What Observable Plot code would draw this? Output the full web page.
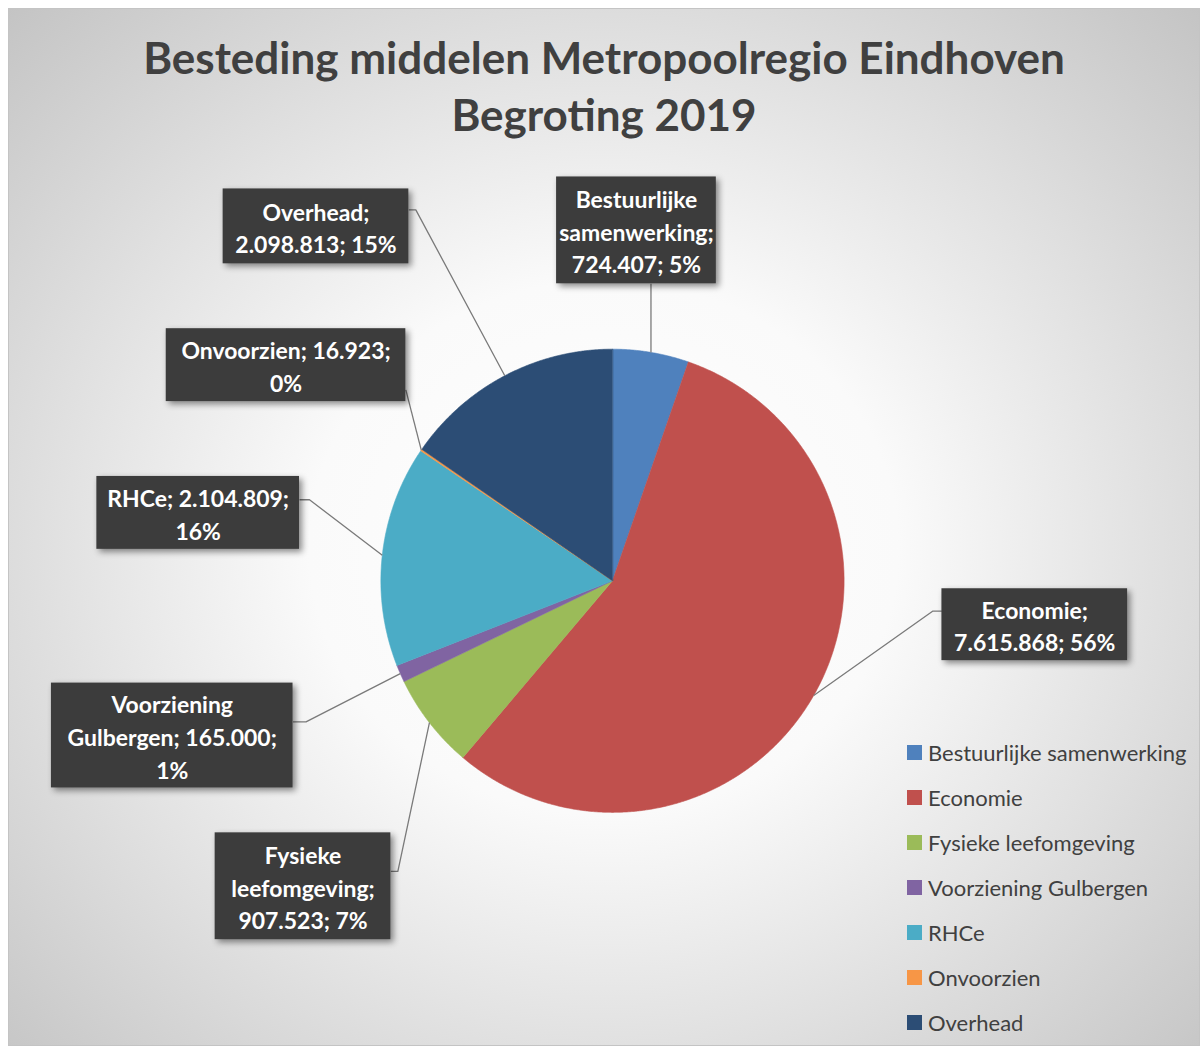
<!DOCTYPE html>
<html>
<head>
<meta charset="utf-8">
<script src="https://cdn.jsdelivr.net/npm/d3@7"></script>
<script src="https://cdn.jsdelivr.net/npm/@observablehq/plot@0.6"></script>
<style>
  html, body { margin: 0; padding: 0; background: #ffffff; }
  #frame {
    position: absolute; left: 8px; top: 8px; width: 1192px; height: 1038px;
    box-sizing: border-box; border: 1px solid #c4c4c4; overflow: hidden;
    background: radial-gradient(ellipse farthest-corner at 50% 52%, #ffffff 0%, #fafafa 35%, #c4c4c4 100%);
    font-family: Lato, "Open Sans", sans-serif;
  }
  #title {
    height: 142px; box-sizing: border-box; padding-top: 20px;
    text-align: center; font-weight: bold; font-size: 44px; line-height: 57px; color: #404040;
  }
  #legend { position: absolute; left: 898px; top: 721px; }
  .item { display: flex; align-items: center; height: 45px; font-size: 22px; color: #404040; }
  .sw { width: 15px; height: 15px; margin-right: 6px; }
  g[aria-label="rect"] rect { filter: drop-shadow(3px 3px 3px rgba(0,0,0,0.45)); }
</style>
</head>
<body>
<div id="frame">
  <div id="title"></div>
  <div id="chart"></div>
  <div id="legend"></div>
</div>
<script>
// ---- data ----
const titleLines = ["Besteding middelen Metropoolregio Eindhoven", "Begroting 2019"];
const categories = ["Bestuurlijke samenwerking", "Economie", "Fysieke leefomgeving", "Voorziening Gulbergen", "RHCe", "Onvoorzien", "Overhead"];
const amounts = [724407, 7615868, 907523, 165000, 2104809, 16923, 2098813];
const colors = ["#4F81BD", "#C0504D", "#9BBB59", "#8064A2", "#4BACC6", "#F79646", "#2C4D75"];

// ---- layout (pixels relative to the pie centre; y down) ----
const W = 1192, H = 896, CX = 604, CY = 430, R = 232;
const labelLayout = [
  {dx: 24,    dy: -351, w: 160, h: 107, side: "bottom", wrap: [1, 1, 2]},
  {dx: 423,   dy: 44,   w: 186, h: 72,  side: "left",  at: 0.31, elbow: 9, wrap: [1, 2]},
  {dx: -310,  dy: 306,  w: 176, h: 107, side: "right", at: 0.36, elbow: 7, wrap: [1, 1, 2]},
  {dx: -441,  dy: 155,  w: 242, h: 105, side: "right", at: 0.37, elbow: 13, wrap: [1, 2, 1]},
  {dx: -415,  dy: -68,  w: 203, h: 73,  side: "right", at: 0.32, elbow: 10, wrap: [2, 1]},
  {dx: -327,  dy: -216, w: 240, h: 73,  side: "right", at: 0.84, elbow: 0, wrap: [2, 1]},
  {dx: -297,  dy: -355, w: 186, h: 75,  side: "right", at: 0.28, elbow: 7, wrap: [1, 2]}
];

// ---- derived ----
document.getElementById("title").innerHTML = titleLines.join("<br>");
const nl = d3.formatLocale({decimal: ",", thousands: ".", grouping: [3], currency: ["€", ""]});
const fmt = nl.format(",d");
const total = d3.sum(amounts);
// percentages rounded to sum to 100 (largest remainder), as Excel does
const raw = amounts.map(v => v / total * 100);
const pct = raw.map(Math.floor);
const order = d3.range(raw.length).sort((a, b) => (raw[b] - pct[b]) - (raw[a] - pct[a]));
const deficit = 100 - d3.sum(pct);
for (let k = 0; k < deficit; k++) pct[order[k]]++;

const rows = categories.map((c, i) => ({cat: c, value: amounts[i], pct: pct[i]}));
const arcs = d3.pie().sort(null).value(d => d.value)(rows);

const slicePts = [];
arcs.forEach(a => {
  slicePts.push({cat: a.data.cat, x: 0, y: 0});
  const n = Math.max(2, Math.ceil((a.endAngle - a.startAngle) / 0.005));
  for (let k = 0; k <= n; k++) {
    const t = a.startAngle + (a.endAngle - a.startAngle) * k / n;
    slicePts.push({cat: a.data.cat, x: Math.sin(t), y: Math.cos(t)});
  }
});

const boxes = [], leaders = [];
arcs.forEach((a, i) => {
  const L = labelLayout[i];
  const cx = L.dx / R, cy = -L.dy / R, hw = L.w / 2 / R, hh = L.h / 2 / R;
  const tokens = `${a.data.cat}; ${fmt(a.data.value)}; ${a.data.pct}%`.split(" ");
  const lines = []; let p = 0;
  L.wrap.forEach(n => { lines.push(tokens.slice(p, p + n).join(" ")); p += n; });
  boxes.push({cat: a.data.cat, x1: cx - hw, x2: cx + hw, y1: cy - hh, y2: cy + hh, cx, cy, label: lines.join("\n")});
  const mid = (a.startAngle + a.endAngle) / 2;
  const E = {x: Math.sin(mid), y: Math.cos(mid)};
  let pts;
  if (L.side === "bottom") {
    pts = [{x: E.x, y: cy - hh}, E];
  } else {
    const ay = cy + hh - L.at * 2 * hh;
    const ax = L.side === "right" ? cx + hw : cx - hw;
    const ex = ax + (L.side === "right" ? 1 : -1) * L.elbow / R;
    pts = [{x: ax, y: ay}, {x: ex, y: ay}, E];
  }
  pts.forEach(q => leaders.push({cat: a.data.cat, x: q.x, y: q.y}));
});

const chart = Plot.plot({
  width: W, height: H, margin: 0,
  style: {background: "transparent", overflow: "visible"},
  x: {domain: [-CX / R, (W - CX) / R], axis: null},
  y: {domain: [-(H - CY) / R, CY / R], axis: null},
  color: {domain: categories, range: colors},
  marks: [
    Plot.line(slicePts, {x: "x", y: "y", z: "cat", fill: "cat", stroke: "cat", strokeWidth: 0.6, curve: "linear-closed"}),
    Plot.line(leaders, {x: "x", y: "y", z: "cat", stroke: "#7a7a7a", strokeWidth: 1.3, strokeLinecap: "butt"}),
    Plot.rect(boxes, {x1: "x1", x2: "x2", y1: "y1", y2: "y2", fill: "#3c3c3c"}),
    Plot.text(boxes, {x: "cx", y: "cy", text: "label", fill: "#ffffff", fontWeight: "bold", fontSize: 23, lineHeight: 1.42, fontFamily: "Lato"})
  ]
});
document.getElementById("chart").appendChild(chart);

const legend = document.getElementById("legend");
categories.forEach((c, i) => {
  const it = document.createElement("div");
  it.className = "item";
  it.innerHTML = `<div class="sw" style="background:${colors[i]}"></div><span>${c}</span>`;
  legend.appendChild(it);
});
</script>
</body>
</html>
